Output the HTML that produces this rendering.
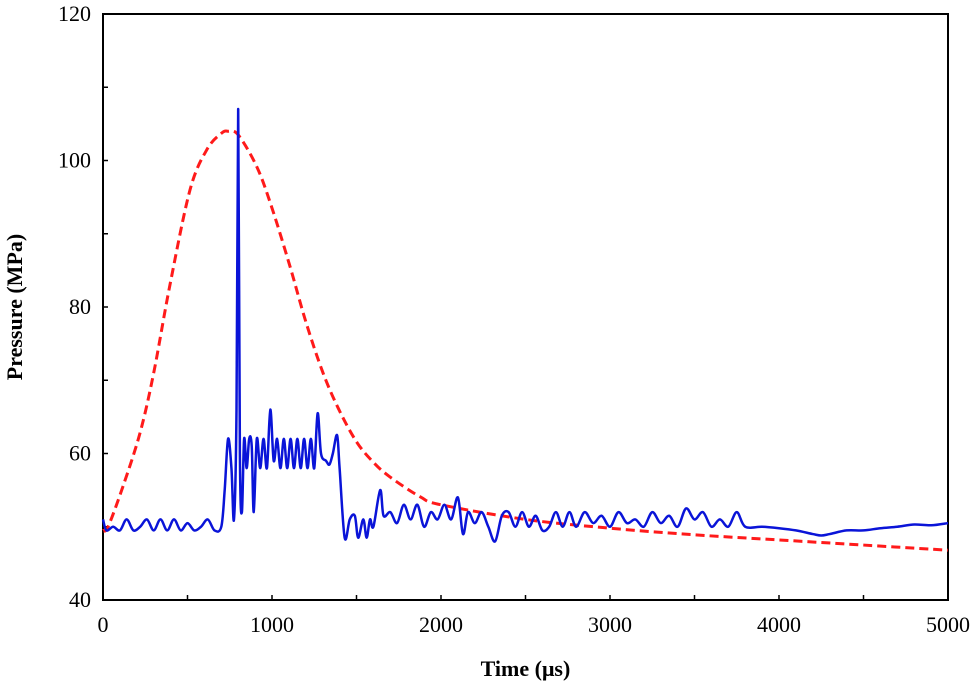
<!DOCTYPE html>
<html><head><meta charset="utf-8"><style>
body{margin:0;background:#fff;}
svg text{font-family:"Liberation Serif",serif;}
</style></head><body>
<svg id="chart" width="978" height="690" xmlns="http://www.w3.org/2000/svg"></svg>
<script>
const xTicks=[0,1000,2000,3000,4000,5000];
const xMinor=[500,1500,2500,3500,4500];
const yTicks=[40,60,80,100,120];
const yMinor=[50,70,90,110];
const blueT=[0,20,60,100,140,180,220,260,300,340,380,420,460,500,540,580,620,660,700,720,740,760,775,790,800,810,822,835,850,865,880,892,910,930,950,970,990,1010,1030,1050,1070,1090,1110,1130,1150,1170,1190,1210,1230,1250,1270,1290,1320,1340,1360,1385,1400,1430,1460,1490,1510,1540,1560,1580,1600,1640,1660,1700,1740,1780,1820,1860,1900,1940,1980,2020,2060,2100,2130,2160,2200,2240,2280,2320,2360,2400,2440,2480,2520,2560,2600,2640,2680,2720,2760,2800,2850,2900,2950,3000,3050,3100,3150,3200,3250,3300,3350,3400,3450,3500,3550,3600,3650,3700,3750,3800,3900,4000,4100,4200,4250,4300,4400,4500,4600,4700,4800,4900,5000];
const blueP=[51,49.5,50,49.5,51,49.5,50,51,49.5,51,49.5,51,49.5,50.5,49.5,50,51,49.5,50,55,62,58,51,66,107,60,52,62,58,62,61,52,62,58,62,58,66,59,62,58,62,58,62,58,62,58,62,58,62,58,65.5,60,59,58.5,60,62.5,58,48.5,51,51.5,48.5,51,48.5,51,50,55,51.5,52,50.5,53,51,53,50,52,51,53,51,54,49,52,50.5,52,50,48,51.5,52,50,52,50,51.5,49.5,50,52,50,52,50,52,50.5,51.5,50,52,50.5,51,50,52,50.5,51.5,50,52.5,51,52,50,51,50,52,50,50,49.8,49.5,49,48.8,49,49.5,49.5,49.8,50,50.3,50.2,50.5];
const redT=[0,30,118,219,300,396,515,615,700,740,800,911,1000,1107,1200,1302,1400,1503,1600,1698,1876,2000,2500,3000,3500,4000,4500,5000];
const redP=[49.5,50,55.5,62.8,71,83,96,101.5,103.7,104,103.5,99.1,93.5,85.5,78,71,65.8,61.5,58.8,56.8,54.1,53,51,49.8,48.9,48.2,47.5,46.8];

const L=103,R=948,T=14,B=600;
const xs=t=>L+(t-0)/(5000)*(R-L);
const ys=p=>B-(p-40)/80*(B-T);
const NS="http://www.w3.org/2000/svg";
const svg=document.getElementById('chart');
function mk(tag,attrs){const e=document.createElementNS(NS,tag);for(const k in attrs)e.setAttribute(k,attrs[k]);svg.appendChild(e);return e;}
function smooth(pts){
  let d='M'+pts[0][0]+','+pts[0][1];
  for(let i=0;i<pts.length-1;i++){
    const p0=pts[Math.max(i-1,0)],p1=pts[i],p2=pts[i+1],p3=pts[Math.min(i+2,pts.length-1)];
    const c1x=p1[0]+(p2[0]-p0[0])/6,c1y=p1[1]+(p2[1]-p0[1])/6;
    const c2x=p2[0]-(p3[0]-p1[0])/6,c2y=p2[1]-(p3[1]-p1[1])/6;
    d+=' C'+c1x+','+c1y+' '+c2x+','+c2y+' '+p2[0]+','+p2[1];
  }
  return d;
}

const frame=mk('rect',{x:L,y:T,width:R-L,height:B-T,fill:'none',stroke:'#000','stroke-width':2});



xTicks.concat(xMinor).forEach(v=>{
  const l=mk('line',{x1:xs(v),x2:xs(v),y1:B,y2:B-5,stroke:'#000','stroke-width':1.5});
  
  
});
xTicks.forEach(v=>{
  const t=mk('text',{x:xs(v),y:B+32,'text-anchor':'middle','font-size':22});
  t.textContent=v;
  
  
});
yTicks.concat(yMinor).forEach(v=>{
  const l=mk('line',{x1:L,x2:L+5,y1:ys(v),y2:ys(v),stroke:'#000','stroke-width':1.5});
  
  
});
yTicks.forEach(v=>{
  const t=mk('text',{x:L-12,y:ys(v)+7,'text-anchor':'end','font-size':22});
  t.textContent=v;
  
  
});

const red=mk('path',{d:smooth(redT.map((t,i)=>[xs(t),ys(redP[i])])),fill:'none',stroke:'#ff1a1a','stroke-width':3,'stroke-dasharray':'9,5'});



const blue=mk('path',{d:smooth(blueT.map((t,i)=>[xs(t),ys(blueP[i])])),fill:'none',stroke:'#0a14d8','stroke-width':2.5,'stroke-linejoin':'round'});



const xt=mk('text',{x:(L+R)/2,y:676,'text-anchor':'middle','font-size':22,'font-weight':'bold'});
xt.textContent='Time (μs)';


const yt=mk('text',{x:0,y:0,'text-anchor':'middle','font-size':22,'font-weight':'bold',transform:'translate(22,'+((T+B)/2)+') rotate(-90)'});
yt.textContent='Pressure (MPa)';


</script>
</body></html>
